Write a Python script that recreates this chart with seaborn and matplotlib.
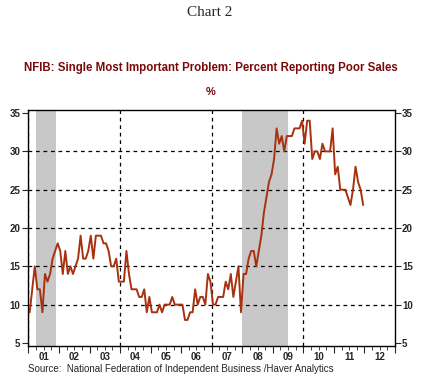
import numpy as np
import matplotlib
matplotlib.use('Agg')
import matplotlib.pyplot as plt
import matplotlib.transforms as mtransforms
import seaborn as sns

# Monthly values (percent reporting poor sales), Jan..Dec of each year
sales_2001 = [9, 12, 15, 12, 12, 9, 14, 13, 14, 16, 17, 18]
sales_2002 = [17, 14, 17, 14, 15, 14, 15, 16, 19, 16, 16, 17]
sales_2003 = [19, 16, 19, 19, 19, 18, 18, 17, 15, 15, 16, 13]
sales_2004 = [13, 13, 17, 14, 12, 12, 12, 11, 11, 12, 9, 11]
sales_2005 = [9, 9, 9, 10, 9, 10, 10, 10, 11, 10, 10, 10]
sales_2006 = [10, 8, 8, 9, 9, 12, 10, 11, 11, 10, 14, 13]
sales_2007 = [10, 10, 11, 11, 11, 13, 12, 14, 11, 13, 15, 9]
sales_2008 = [14, 14, 16, 17, 17, 15, 17, 19, 22, 24, 26, 27]
sales_2009 = [29, 33, 31, 32, 30, 32, 32, 32, 33, 33, 33, 34]
sales_2010 = [31, 34, 34, 29, 30, 30, 29, 31, 30, 30, 30, 33]
sales_2011 = [27, 28, 25, 25, 25, 24, 23, 25, 28, 26, 25, 23]

years = list(range(2001, 2012))
year_labels = ['01', '02', '03', '04', '05', '06', '07', '08', '09', '10', '11', '12']
recessions = [(2001.25, 2001 + 11 / 12), (2008.0, 2009.5)]
grid_years = [2001, 2004, 2007, 2010]
y_ticks = [5, 10, 15, 20, 25, 30, 35]

all_sales = [sales_2001, sales_2002, sales_2003, sales_2004, sales_2005, sales_2006,
             sales_2007, sales_2008, sales_2009, sales_2010, sales_2011]
x = []
y = []
for yr, vals in zip(years, all_sales):
    for m, v in enumerate(vals):
        x.append(yr + (m + 0.5) / 12)  # mid-month position in decimal years
        y.append(v)

sns.set_style('ticks')
plt.rcParams['font.family'] = ['Liberation Sans', 'DejaVu Sans']

fig = plt.figure(figsize=(4.32, 3.78), dpi=100)
ax = fig.add_axes([27.5 / 432, 1 - 346 / 378, (395 - 27.5) / 432, (346 - 110) / 378])

# Recession shading
for start, end in recessions:
    ax.axvspan(start, end, color='#c8c8c8', lw=0, zorder=0)

# Dashed grid
for g in grid_years:
    ax.axvline(g, color='black', lw=0.9, ls=(0, (3, 3)), zorder=1)
for t in y_ticks[1:-1]:
    ax.axhline(t, color='black', lw=0.9, ls=(0, (3, 3)), zorder=1)

sns.lineplot(x=x, y=y, ax=ax, color='#a8320f', linewidth=1.4, zorder=3)

ax.set_xlim(2000.97, 2013.0)
ax.set_ylim(4.6, 35.4)
ax.set_yticks(y_ticks)
ax.set_xticks(range(2001, 2014))
ax.set_xticks(np.arange(2001, 2013, 0.25), minor=True)
ax.set_xticklabels([])
ax.set_xlabel('')
ax.set_ylabel('')
ax.tick_params(axis='y', left=True, right=True, labelleft=True, labelright=True,
               direction='out', length=4, width=0.8, labelsize=7, pad=1)
ax.tick_params(axis='x', which='major', direction='out', length=5, width=0.8)
ax.tick_params(axis='x', which='minor', direction='out', length=3, width=0.6)
for lab in ax.get_yticklabels():
    lab.set_fontweight('bold')
for s in ax.spines.values():
    s.set_visible(True)
    s.set_linewidth(1.0)
    s.set_color('black')

# Year labels centred under each year
trans = mtransforms.blended_transform_factory(ax.transData, fig.transFigure)
for yr, lab in zip(range(2001, 2013), year_labels):
    ax.text(yr + 0.5, 1 - 357 / 378, lab, transform=trans, ha='center', va='center',
            fontsize=7, fontweight='bold')

fig.text(210 / 432, 1 - 12 / 378, 'Chart 2', ha='center', va='center',
         family='Liberation Serif', fontsize=11)
fig.text(211 / 432, 1 - 68 / 378, 'NFIB: Single Most Important Problem: Percent Reporting Poor Sales',
         ha='center', va='center', fontsize=8.3, fontweight='bold', color='#7a0a0a')
fig.text(211 / 432, 1 - 92 / 378, '%', ha='center', va='center', fontsize=8,
         fontweight='bold', color='#7a0a0a')
fig.text(28 / 432, 1 - 369 / 378, 'Source:  National Federation of Independent Business /Haver Analytics',
         ha='left', va='center', fontsize=7)

fig.savefig('out.png', dpi=100)
